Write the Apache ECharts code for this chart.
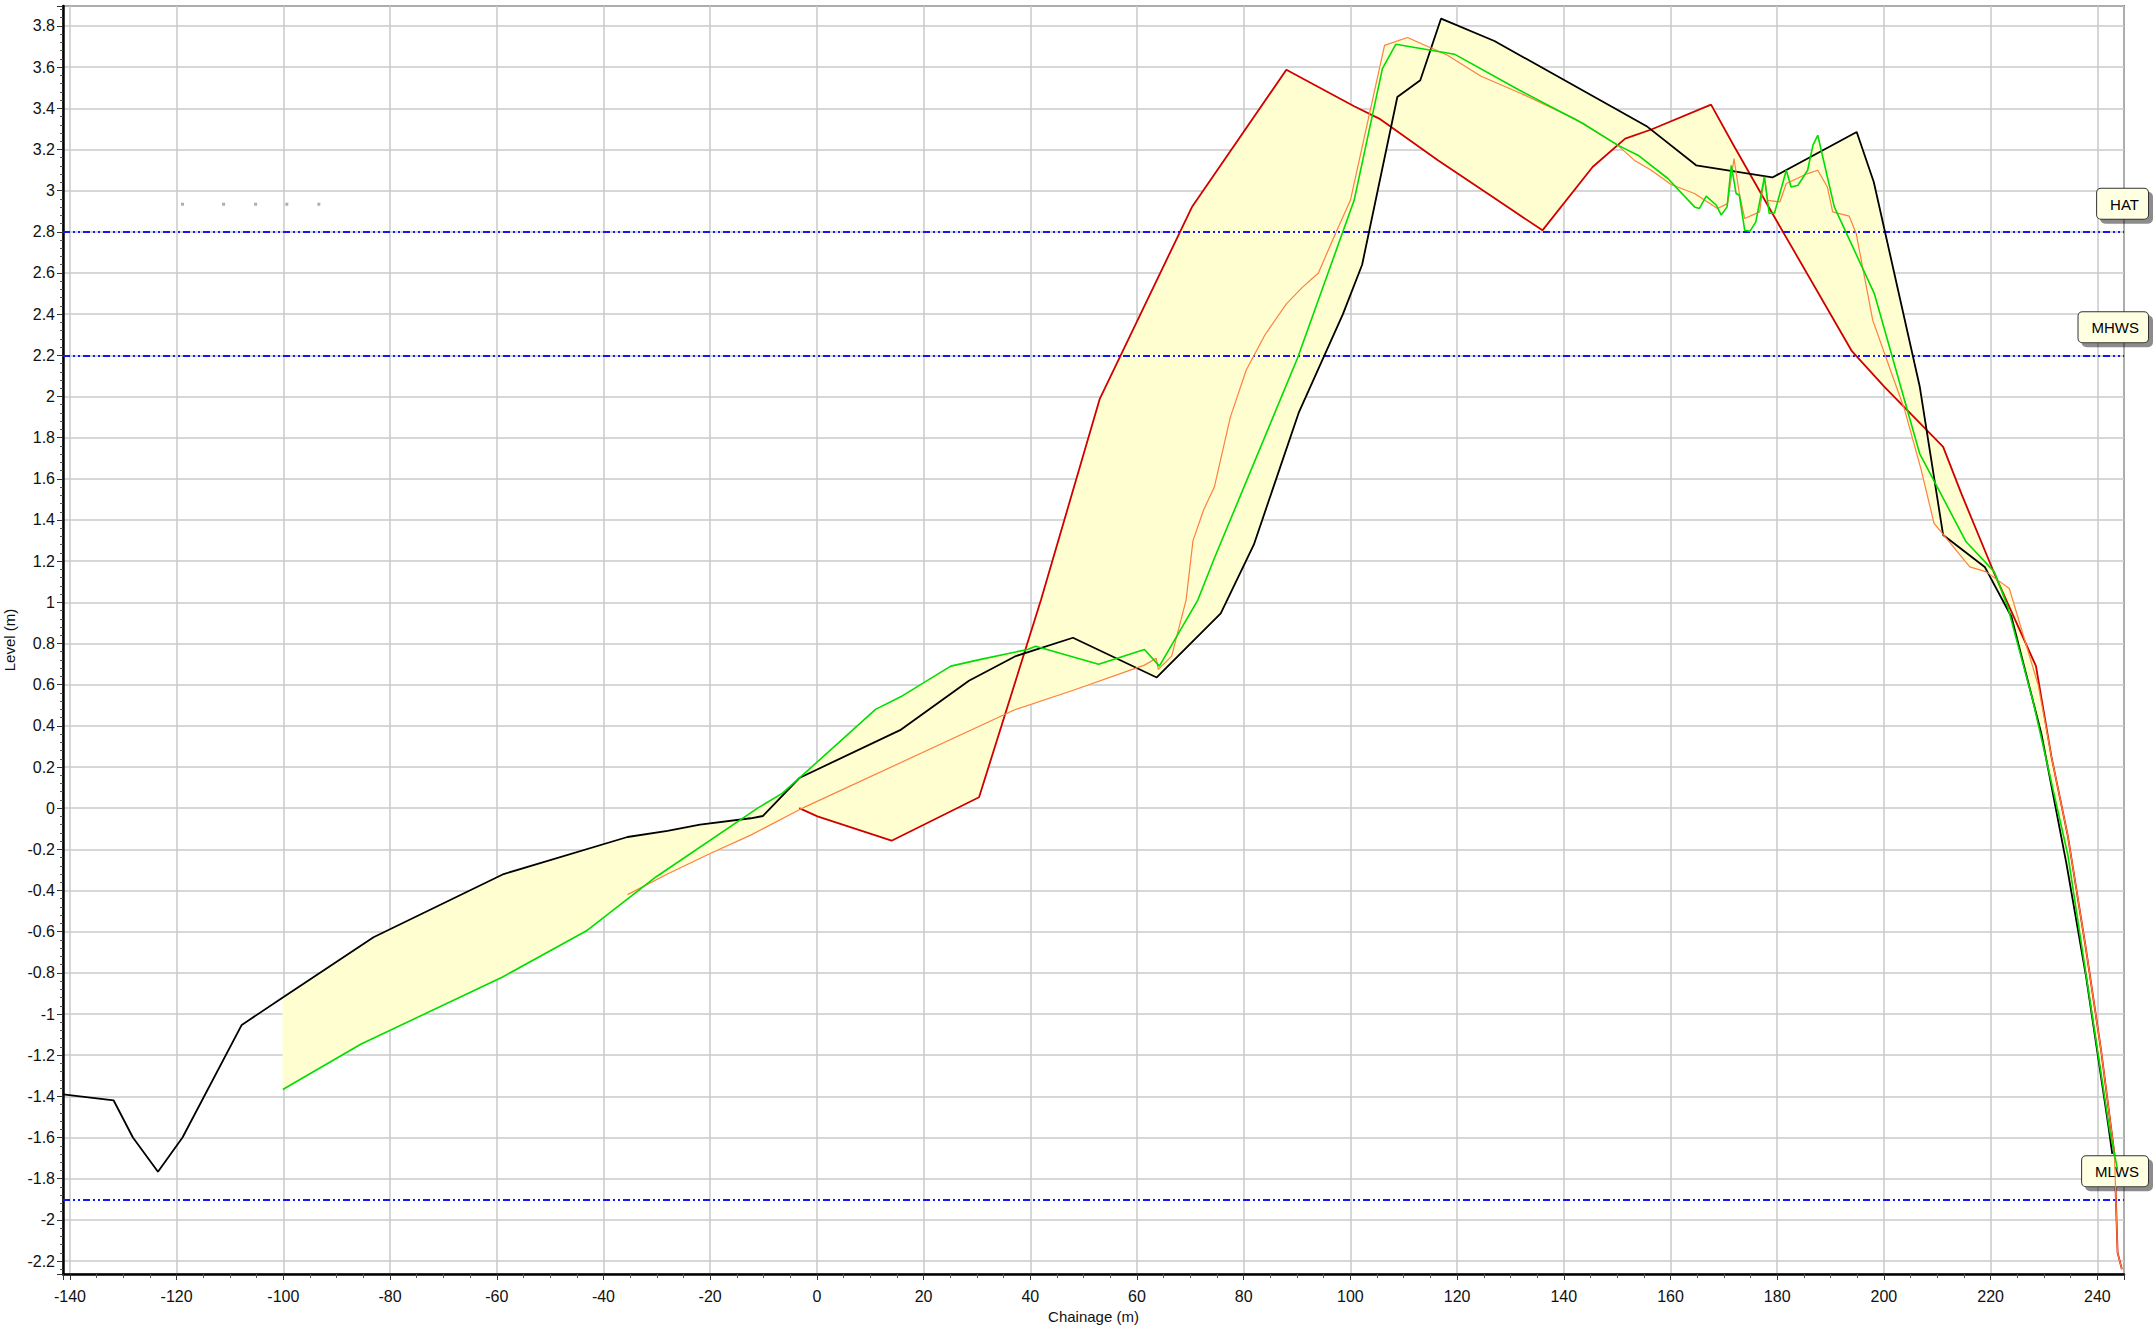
<!DOCTYPE html>
<html><head><meta charset="utf-8">
<script src="https://cdn.jsdelivr.net/npm/echarts@6/dist/echarts.min.js"></script>
<style>html,body{margin:0;padding:0;background:#fff}#c{width:2156px;height:1334px}</style>
</head><body><div id="c"></div>
<script>
// ---- data (chainage m, level m) ----
const profileBlack = [[-141.3,-1.39],[-131.8,-1.42],[-128.2,-1.6],[-123.5,-1.766],[-118.9,-1.6],[-107.8,-1.053],[-100.1,-0.92],[-83.1,-0.627],[-58.7,-0.32],[-35.5,-0.14],[-28,-0.11],[-21.9,-0.08],[-12.4,-0.049],[-10.1,-0.038],[-3.2,0.148],[15.6,0.379],[28.5,0.619],[37.3,0.739],[48.0,0.828],[63.7,0.635],[75.7,0.946],[81.9,1.28],[90.3,1.92],[98.6,2.4],[102.2,2.64],[108.8,3.455],[113.1,3.536],[117.0,3.836],[127.0,3.727],[155.7,3.31],[164.8,3.123],[179.1,3.064],[194.9,3.285],[198.1,3.042],[206.7,2.05],[211.1,1.327],[218.9,1.172],[223.9,0.93],[229.5,0.363],[234.2,-0.268],[237.9,-0.819],[242.0,-1.531],[242.8,-1.68]];
const profileRed = [[-3.3,0.0],[0.1,-0.04],[14.0,-0.158],[30.4,0.053],[42.0,1.011],[53.0,1.987],[70.3,2.92],[88.0,3.587],[100.7,3.41],[105.4,3.35],[116.4,3.148],[127.6,2.953],[136.0,2.807],[145.4,3.115],[151.5,3.253],[156.4,3.297],[167.6,3.418],[172.0,3.212],[179.1,2.889],[194.0,2.22],[200.1,2.047],[211.1,1.755],[214.5,1.529],[220.7,1.14],[228.5,0.69],[231.4,0.25],[234.5,-0.139],[237.9,-0.689],[240.7,-1.175],[243.2,-1.677],[243.8,-2.16],[244.6,-2.24]];
const profileGreen = [[-100.1,-1.367],[-85.5,-1.147],[-58.9,-0.82],[-43.0,-0.593],[-30.1,-0.333],[-11.1,0.0],[-6.5,0.072],[-3.2,0.148],[11.0,0.48],[15.7,0.541],[25.1,0.69],[30.7,0.723],[39.5,0.771],[41.0,0.787],[52.8,0.699],[61.4,0.771],[64.2,0.69],[71.4,1.011],[74.6,1.22],[90.1,2.187],[100.7,2.953],[106.0,3.593],[108.5,3.711],[119.5,3.663],[131.7,3.488],[143.6,3.326],[150.1,3.221],[153.9,3.172],[159.5,3.059],[164.5,2.921],[165.4,2.913],[166.7,2.973],[168.6,2.929],[169.5,2.881],[170.6,2.921],[171.4,3.123],[172.3,2.986],[172.9,2.978],[173.9,2.808],[174.9,2.803],[176.0,2.848],[177.6,3.067],[178.5,2.889],[179.5,2.892],[181.7,3.099],[182.6,3.018],[183.9,3.026],[185.7,3.099],[186.7,3.221],[187.6,3.269],[190.7,2.921],[198.2,2.5],[206.7,1.723],[215.4,1.294],[220.7,1.148],[223.2,0.978],[227.9,0.525],[234.5,-0.23],[242.3,-1.563],[243.8,-1.757]];
const profileOrange = [[-35.5,-0.42],[-28,-0.32],[-20,-0.22],[-12.4,-0.131],[-3.2,-0.006],[37.0,0.477],[48.2,0.574],[61.4,0.695],[63.6,0.728],[64.0,0.674],[66.5,0.739],[69.2,1.011],[70.5,1.3],[72.5,1.45],[74.5,1.56],[77.5,1.9],[80.5,2.13],[84.0,2.3],[88.0,2.45],[91.0,2.53],[94.0,2.6],[97.0,2.78],[100.0,2.953],[106.4,3.706],[110.7,3.744],[118.2,3.658],[124.5,3.556],[132.0,3.472],[142.0,3.35],[150.1,3.221],[153.2,3.148],[156.4,3.099],[160.1,3.03],[164.5,2.986],[168.8,2.913],[170.7,2.937],[171.9,3.156],[172.9,2.986],[173.9,2.865],[176.7,2.897],[177.6,3.067],[178.2,2.953],[180.5,2.945],[181.7,3.035],[185.7,3.083],[187.6,3.099],[189.4,3.018],[190.4,2.897],[193.5,2.876],[194.8,2.792],[197.9,2.371],[201.9,2.079],[203.9,1.934],[207.0,1.642],[209.4,1.383],[216.1,1.172],[219.2,1.148],[223.5,1.067],[228.9,0.6],[231.4,0.25],[234.5,-0.139],[237.9,-0.689],[240.7,-1.175],[243.2,-1.677],[243.8,-2.16],[244.6,-2.24]];
const greyMarks = [[-118.9,2.934],[-111.2,2.934],[-105.2,2.934],[-99.35,2.934],[-93.35,2.934]];
const levelNames = ['HAT','MHWS','MLWS'];
const levelValues = [2.8, 2.2, -1.9];
const xRange = [-141.3, 245.0];
const yRange = [-2.263, 3.897];

// ---- helpers ----
const FONT = "'Liberation Sans Narrow','Liberation Sans',Arial,sans-serif";
const FILL = '#fefed0';
function interpAt(line, x) {
  for (let i = 0; i < line.length - 1; i++) {
    const [x0, y0] = line[i], [x1, y1] = line[i + 1];
    if (x >= x0 && x <= x1) return x1 === x0 ? y0 : y0 + (y1 - y0) * (x - x0) / (x1 - x0);
  }
  return null;
}
function band(a, b) {
  const lo = Math.max(a[0][0], b[0][0]);
  const hi = Math.min(a[a.length - 1][0], b[b.length - 1][0]);
  if (!(hi > lo)) return null;
  const inner = l => l.filter(p => p[0] > lo && p[0] < hi);
  const top = [[lo, interpAt(a, lo)], ...inner(a), [hi, interpAt(a, hi)]];
  const bot = [[lo, interpAt(b, lo)], ...inner(b), [hi, interpAt(b, hi)]].reverse();
  return top.concat(bot);
}
const lines = [profileBlack, profileRed, profileGreen, profileOrange];
const bands = [];
for (let i = 0; i < lines.length; i++) for (let j = i + 1; j < lines.length; j++) {
  const p = band(lines[i], lines[j]); if (p) bands.push(p);
}
const isMult = (v, s) => Math.abs(v / s - Math.round(v / s)) < 1e-6;

const chart = echarts.init(document.getElementById('c'), null, { renderer: 'svg' });
chart.setOption({
  animation: false,
  backgroundColor: '#ffffff',
  grid: { left: 63, top: 6, right: 32, bottom: 60, containLabel: false, outerBoundsMode: 'none', show: true, borderColor: '#222', borderWidth: 1.5, backgroundColor: '#fff' },
  xAxis: {
    type: 'value', min: xRange[0], max: xRange[1], minInterval: 20, maxInterval: 20, splitNumber: 19,
    name: 'Chainage (m)', nameLocation: 'middle', nameGap: 34,
    nameTextStyle: { fontFamily: FONT, fontSize: 15, color: '#111' },
    axisLine: { onZero: false, lineStyle: { color: '#000', width: 2.5 } },
    axisTick: { show: true, length: 6, lineStyle: { color: '#333', width: 1 } },
    minorTick: { show: true, splitNumber: 4, length: 4, lineStyle: { color: '#555', width: 1 } },
    axisLabel: { margin: 14, fontFamily: FONT, fontSize: 16, color: '#111', formatter: v => isMult(v, 20) ? String(Math.round(v)) : '' },
    splitLine: { show: true, lineStyle: { color: '#cacaca', width: 1.5 } }
  },
  yAxis: {
    type: 'value', min: yRange[0], max: yRange[1], minInterval: 0.2, maxInterval: 0.2, splitNumber: 31,
    name: 'Level (m)', nameLocation: 'middle', nameGap: 42, nameRotate: 90,
    nameTextStyle: { fontFamily: FONT, fontSize: 15, color: '#111' },
    axisLine: { onZero: false, lineStyle: { color: '#000', width: 2.5 } },
    axisTick: { show: true, length: 6, lineStyle: { color: '#333', width: 1 } },
    minorTick: { show: true, splitNumber: 5, length: 3, lineStyle: { color: '#555', width: 1 } },
    axisLabel: { margin: 8, fontFamily: FONT, fontSize: 16, color: '#111', formatter: v => isMult(v, 0.2) ? String(Math.round(v * 10) / 10) : '' },
    splitLine: { show: true, lineStyle: { color: '#cacaca', width: 1.5 } }
  },
  series: [
    {
      type: 'custom', name: 'envelope', silent: true, z: 1, clip: true,
      data: [[0, 0]],
      renderItem: (params, api) => ({
        type: 'group',
        children: bands.map(poly => ({
          type: 'polygon',
          shape: { points: poly.map(p => api.coord(p)) },
          style: { fill: FILL, stroke: FILL, lineWidth: 0.6 }
        }))
      })
    },
    {
      type: 'line', name: 'levels', data: [], silent: true, z: 3,
      markLine: {
        silent: true, symbol: 'none', animation: false,
        lineStyle: { color: '#1414ff', width: 2.2, type: [7, 3, 2, 3, 2, 3] },
        label: {
          show: true, position: 'insideEndTop', formatter: '{b}', distance: [-24, 13],
          color: '#000', fontFamily: FONT, fontSize: 15,
          backgroundColor: '#ffffe1', borderColor: '#333', borderWidth: 1, borderRadius: 4,
          padding: [8, 9, 7, 13],
          shadowColor: 'rgba(0,0,0,0.45)', shadowOffsetX: 4, shadowOffsetY: 4, shadowBlur: 1
        },
        emphasis: { disabled: true },
        data: levelNames.map((n, i) => ({ name: n, yAxis: levelValues[i] }))
      }
    },
    { type: 'line', name: 'Profile 1', data: profileBlack, showSymbol: false, z: 5, lineStyle: { color: '#000000', width: 1.8 } },
    { type: 'line', name: 'Profile 2', data: profileRed, showSymbol: false, z: 4, lineStyle: { color: '#d00000', width: 1.8 } },
    { type: 'line', name: 'Profile 3', data: profileOrange, showSymbol: false, z: 6, lineStyle: { color: '#ff7f40', width: 1.2 } },
    { type: 'line', name: 'Profile 4', data: profileGreen, showSymbol: false, z: 7, lineStyle: { color: '#00dd00', width: 1.6 } },
    { type: 'scatter', name: 'marks', data: greyMarks, symbol: 'rect', symbolSize: 3, itemStyle: { color: '#9a9a9a' }, silent: true, z: 8 }
  ]
});
</script>
</body></html>
